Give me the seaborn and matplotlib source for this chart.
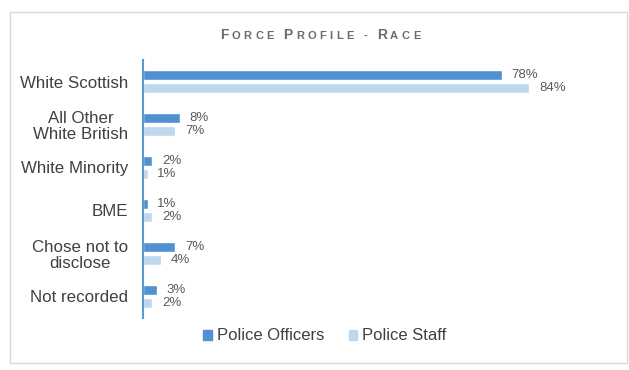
import numpy as np
import pandas as pd
import matplotlib
matplotlib.use("Agg")
import matplotlib.pyplot as plt
import seaborn as sns
from matplotlib.offsetbox import TextArea, HPacker, AnchoredOffsetbox
from matplotlib.patches import Rectangle, Patch

# data
categories = [
    "White Scottish",
    "All Other\nWhite British",
    "White Minority",
    "BME",
    "Chose not to\ndisclose",
    "Not recorded",
]
series_names = ["Police Officers", "Police Staff"]
officers = [78, 8, 2, 1, 7, 3]
staff = [84, 7, 1, 2, 4, 2]
title_text = "Force Profile - Race"

c_officers = "#5091D2"
c_staff = "#BDD7EE"
text_grey = "#404040"

df = pd.DataFrame(
    {
        "category": categories * 2,
        "group": [series_names[0]] * len(categories) + [series_names[1]] * len(categories),
        "value": officers + staff,
    }
)

sns.set_theme(style="white")
plt.rcParams["font.family"] = ["Liberation Sans", "DejaVu Sans"]

W, H = 629, 370
fig = plt.figure(figsize=(W / 100, H / 100), dpi=100)
fig.patch.set_facecolor("white")
ax = fig.add_axes([143 / W, 1 - 318 / H, 460 / W, 258 / H])

sns.barplot(
    data=df,
    x="value",
    y="category",
    hue="group",
    order=categories,
    hue_order=series_names,
    palette=[c_officers, c_staff],
    orient="h",
    width=0.59,
    gap=0.25,
    saturation=1,
    errorbar=None,
    legend=False,
    ax=ax,
)

for cont in ax.containers:
    ax.bar_label(cont, fmt="%g%%", padding=7, fontsize=9.5, color="#595959")

ax.set_xlim(0, 100)
ax.set_xticks([])
ax.set_xlabel("")
ax.set_ylabel("")
for side in ["top", "right", "bottom"]:
    ax.spines[side].set_visible(False)
ax.spines["left"].set_color("#5B9BD5")
ax.spines["left"].set_linewidth(1.5)
ax.tick_params(axis="y", length=0, pad=10.5, labelsize=12.2, labelcolor=text_grey)
for t in ax.get_yticklabels():
    t.set_multialignment("center")
    t.set_linespacing(1.12)

# legend below the plot
handles = [Patch(color=c_officers), Patch(color=c_staff)]
fig.legend(
    handles,
    series_names,
    loc="center",
    bbox_to_anchor=(325 / W, 1 - 336 / H),
    ncol=2,
    frameon=False,
    fontsize=12,
    handlelength=0.5,
    handleheight=0.55,
    handletextpad=0.3,
    columnspacing=1.5,
    labelcolor=text_grey,
)


# small caps title
def small_caps(text, big=10, small=8, color="#6B6B6B"):
    boxes = []
    for word in text.split(" "):
        for i, ch in enumerate(word):
            size = big if (i == 0 and ch.isalpha()) else small
            boxes.append(
                TextArea(ch.upper(), textprops=dict(fontsize=size, color=color, fontweight="bold"))
            )
        boxes.append(TextArea(" ", textprops=dict(fontsize=small)))
    boxes.pop()
    return HPacker(children=boxes, align="baseline", pad=0, sep=2.4)


title_box = AnchoredOffsetbox(
    loc="center",
    child=small_caps(title_text),
    bbox_to_anchor=(320 / W, 1 - 35 / H),
    bbox_transform=fig.transFigure,
    frameon=False,
    pad=0,
    borderpad=0,
)
fig.add_artist(title_box)

# light outer frame
fig.patches.append(
    Rectangle(
        (10 / W, 1 - 363 / H),
        (617) / W,
        (351) / H,
        transform=fig.transFigure,
        fill=False,
        edgecolor="#D9D9D9",
        linewidth=1,
    )
)

fig.savefig("out.png", dpi=100)
